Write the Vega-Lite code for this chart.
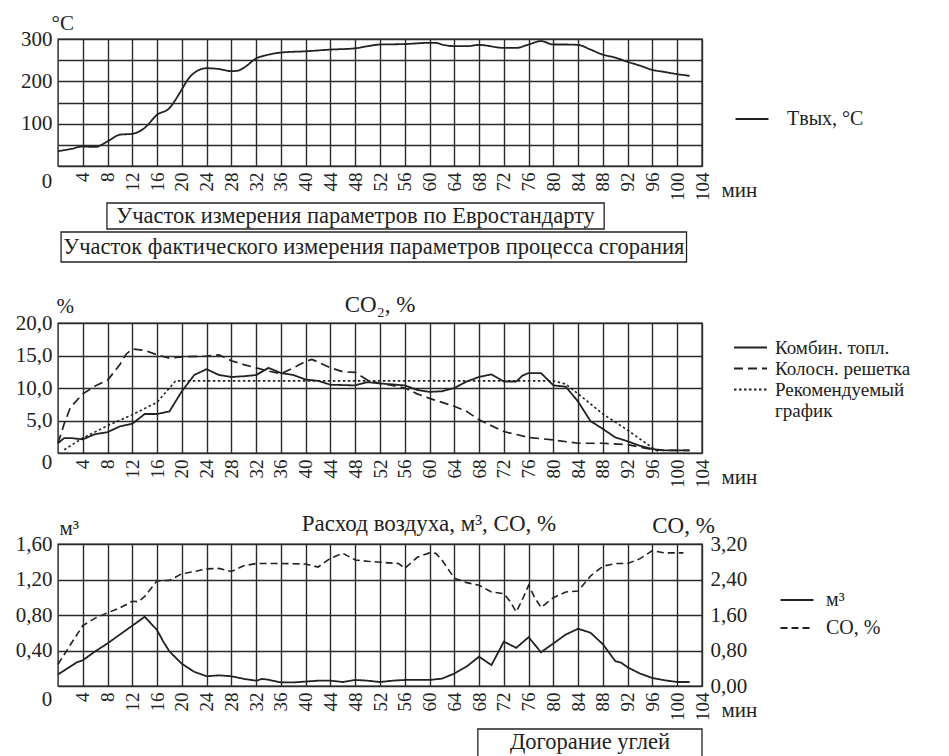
{
  "$schema": "https://vega.github.io/schema/vega-lite/v6.json",
  "padding": {"left": 14, "top": 11, "right": 0, "bottom": 0},
  "bounds": "flush",
  "spacing": 0,
  "resolve": {"scale": {"strokeDash": "independent", "strokeWidth": "independent"}, "legend": {"strokeDash": "independent", "strokeWidth": "independent"}},
  "config": {
    "font": "Liberation Serif",
    "view": {"stroke": null},
    "locale": {"number": {"decimal": ",", "thousands": " ", "grouping": [3], "currency": ["", ""]}},
    "axis": {"grid": true, "gridColor": "#2a2a2a", "gridWidth": 1.4, "gridOpacity": 1, "domain": false, "ticks": false, "labelOverlap": false, "labelBound": false,
      "tickCount": 40,
      "labelFont": "Liberation Serif", "labelFontSize": 21, "labelColor": "#222", "labelPadding": 6,
      "titleFont": "Liberation Serif", "titleFontWeight": "normal", "titleFontSize": 21, "titleColor": "#222"},
    "legend": {"labelFont": "Liberation Serif", "labelFontSize": 19, "labelColor": "#222", "symbolType": "M-3.3,0H3.3", "symbolSize": 100,
      "symbolStrokeWidth": 2, "symbolStrokeColor": "#222", "padding": 0, "orient": "none", "title": null, "labelLimit": 300},
    "title": {"font": "Liberation Serif", "fontSize": 23, "fontWeight": "normal", "color": "#222", "anchor": "middle", "frame": "group"}
  },
  "datasets": {
    "temp": [
      {"t": 0, "v": 35}, {"t": 2, "v": 40}, {"t": 4, "v": 46}, {"t": 6, "v": 45}, {"t": 8, "v": 58}, {"t": 10, "v": 74},
      {"t": 12, "v": 76}, {"t": 14, "v": 90}, {"t": 16, "v": 121}, {"t": 18, "v": 137}, {"t": 19, "v": 157}, {"t": 20, "v": 181},
      {"t": 21, "v": 205}, {"t": 22, "v": 220}, {"t": 24, "v": 231}, {"t": 26, "v": 229}, {"t": 28, "v": 224}, {"t": 29, "v": 225},
      {"t": 30, "v": 232}, {"t": 32, "v": 254}, {"t": 34, "v": 263}, {"t": 36, "v": 268}, {"t": 40, "v": 271}, {"t": 44, "v": 275},
      {"t": 48, "v": 278}, {"t": 50, "v": 283}, {"t": 52, "v": 287}, {"t": 56, "v": 288}, {"t": 60, "v": 291}, {"t": 61, "v": 291},
      {"t": 62, "v": 287}, {"t": 64, "v": 283}, {"t": 66, "v": 283}, {"t": 68, "v": 286}, {"t": 72, "v": 279}, {"t": 74, "v": 279},
      {"t": 76, "v": 287}, {"t": 78, "v": 295}, {"t": 80, "v": 287}, {"t": 82, "v": 287}, {"t": 84, "v": 286}, {"t": 86, "v": 275},
      {"t": 88, "v": 263}, {"t": 90, "v": 256}, {"t": 92, "v": 246}, {"t": 94, "v": 237}, {"t": 96, "v": 227}, {"t": 98, "v": 222},
      {"t": 100, "v": 217}, {"t": 102, "v": 213}
    ],
    "co2": [
      {"s": "Комбин. топл.", "t": 0, "v": 1.5}, {"s": "Комбин. топл.", "t": 1, "v": 2.3}, {"s": "Комбин. топл.", "t": 2, "v": 2.3},
      {"s": "Комбин. топл.", "t": 4, "v": 2.1}, {"s": "Комбин. топл.", "t": 6, "v": 2.9}, {"s": "Комбин. топл.", "t": 8, "v": 3.2},
      {"s": "Комбин. топл.", "t": 10, "v": 4.1}, {"s": "Комбин. топл.", "t": 12, "v": 4.5}, {"s": "Комбин. топл.", "t": 14, "v": 6.0},
      {"s": "Комбин. топл.", "t": 16, "v": 6.0}, {"s": "Комбин. топл.", "t": 18, "v": 6.4}, {"s": "Комбин. топл.", "t": 20, "v": 9.5},
      {"s": "Комбин. топл.", "t": 22, "v": 12.0}, {"s": "Комбин. топл.", "t": 24, "v": 12.9}, {"s": "Комбин. топл.", "t": 26, "v": 12.0},
      {"s": "Комбин. топл.", "t": 28, "v": 11.7}, {"s": "Комбин. топл.", "t": 30, "v": 11.8}, {"s": "Комбин. топл.", "t": 32, "v": 12.0},
      {"s": "Комбин. топл.", "t": 34, "v": 13.1}, {"s": "Комбин. топл.", "t": 36, "v": 12.3}, {"s": "Комбин. топл.", "t": 38, "v": 12.0},
      {"s": "Комбин. топл.", "t": 40, "v": 11.3}, {"s": "Комбин. топл.", "t": 42, "v": 11.1}, {"s": "Комбин. топл.", "t": 44, "v": 10.5},
      {"s": "Комбин. топл.", "t": 48, "v": 10.4}, {"s": "Комбин. топл.", "t": 50, "v": 10.9}, {"s": "Комбин. топл.", "t": 52, "v": 10.7},
      {"s": "Комбин. топл.", "t": 56, "v": 10.4}, {"s": "Комбин. топл.", "t": 58, "v": 9.7}, {"s": "Комбин. топл.", "t": 60, "v": 9.4},
      {"s": "Комбин. топл.", "t": 62, "v": 9.5}, {"s": "Комбин. топл.", "t": 64, "v": 10.0}, {"s": "Комбин. топл.", "t": 66, "v": 11.0},
      {"s": "Комбин. топл.", "t": 68, "v": 11.7}, {"s": "Комбин. топл.", "t": 70, "v": 12.1}, {"s": "Комбин. топл.", "t": 72, "v": 11.0},
      {"s": "Комбин. топл.", "t": 74, "v": 11.0}, {"s": "Комбин. топл.", "t": 75, "v": 11.9}, {"s": "Комбин. топл.", "t": 76, "v": 12.3},
      {"s": "Комбин. топл.", "t": 78, "v": 12.3}, {"s": "Комбин. топл.", "t": 80, "v": 10.4}, {"s": "Комбин. топл.", "t": 82, "v": 10.2},
      {"s": "Комбин. топл.", "t": 84, "v": 7.9}, {"s": "Комбин. топл.", "t": 86, "v": 4.9}, {"s": "Комбин. топл.", "t": 88, "v": 3.7},
      {"s": "Комбин. топл.", "t": 90, "v": 2.4}, {"s": "Комбин. топл.", "t": 92, "v": 1.8}, {"s": "Комбин. топл.", "t": 94, "v": 1.1},
      {"s": "Комбин. топл.", "t": 96, "v": 0.6}, {"s": "Комбин. топл.", "t": 98, "v": 0.4}, {"s": "Комбин. топл.", "t": 100, "v": 0.4},
      {"s": "Комбин. топл.", "t": 102, "v": 0.4},
      {"s": "Колосн. решетка", "t": 0, "v": 1.5}, {"s": "Колосн. решетка", "t": 1, "v": 4.5}, {"s": "Колосн. решетка", "t": 2, "v": 7.0},
      {"s": "Колосн. решетка", "t": 4, "v": 9.1}, {"s": "Колосн. решетка", "t": 6, "v": 10.3}, {"s": "Колосн. решетка", "t": 8, "v": 11.2},
      {"s": "Колосн. решетка", "t": 10, "v": 13.6}, {"s": "Колосн. решетка", "t": 11, "v": 15.2}, {"s": "Колосн. решетка", "t": 12, "v": 16.0},
      {"s": "Колосн. решетка", "t": 14, "v": 15.8}, {"s": "Колосн. решетка", "t": 16, "v": 15.1}, {"s": "Колосн. решетка", "t": 18, "v": 14.6},
      {"s": "Колосн. решетка", "t": 20, "v": 14.8}, {"s": "Колосн. решетка", "t": 24, "v": 14.9}, {"s": "Колосн. решетка", "t": 26, "v": 15.1},
      {"s": "Колосн. решетка", "t": 28, "v": 14.2}, {"s": "Колосн. решетка", "t": 30, "v": 13.6}, {"s": "Колосн. решетка", "t": 32, "v": 13.1},
      {"s": "Колосн. решетка", "t": 34, "v": 12.6}, {"s": "Колосн. решетка", "t": 36, "v": 12.2}, {"s": "Колосн. решетка", "t": 38, "v": 13.1},
      {"s": "Колосн. решетка", "t": 40, "v": 14.1}, {"s": "Колосн. решетка", "t": 41, "v": 14.4}, {"s": "Колосн. решетка", "t": 42, "v": 14.0},
      {"s": "Колосн. решетка", "t": 44, "v": 13.1}, {"s": "Колосн. решетка", "t": 46, "v": 12.5}, {"s": "Колосн. решетка", "t": 48, "v": 12.4},
      {"s": "Колосн. решетка", "t": 50, "v": 11.2}, {"s": "Колосн. решетка", "t": 52, "v": 10.7}, {"s": "Колосн. решетка", "t": 54, "v": 10.4},
      {"s": "Колосн. решетка", "t": 56, "v": 10.0}, {"s": "Колосн. решетка", "t": 58, "v": 9.1}, {"s": "Колосн. решетка", "t": 60, "v": 8.4},
      {"s": "Колосн. решетка", "t": 64, "v": 7.2}, {"s": "Колосн. решетка", "t": 66, "v": 6.4}, {"s": "Колосн. решетка", "t": 68, "v": 5.1},
      {"s": "Колосн. решетка", "t": 72, "v": 3.3}, {"s": "Колосн. решетка", "t": 76, "v": 2.4}, {"s": "Колосн. решетка", "t": 80, "v": 2.0},
      {"s": "Колосн. решетка", "t": 84, "v": 1.5}, {"s": "Колосн. решетка", "t": 88, "v": 1.5}, {"s": "Колосн. решетка", "t": 92, "v": 1.3},
      {"s": "Колосн. решетка", "t": 96, "v": 0.5}, {"s": "Колосн. решетка", "t": 98, "v": 0.4}, {"s": "Колосн. решетка", "t": 102, "v": 0.4},
      {"s": "Рекомендуемый график", "t": 1, "v": 0.5}, {"s": "Рекомендуемый график", "t": 4, "v": 2.3}, {"s": "Рекомендуемый график", "t": 8, "v": 4.2},
      {"s": "Рекомендуемый график", "t": 12, "v": 5.9}, {"s": "Рекомендуемый график", "t": 16, "v": 7.8}, {"s": "Рекомендуемый график", "t": 19, "v": 11.1},
      {"s": "Рекомендуемый график", "t": 40, "v": 11.1}, {"s": "Рекомендуемый график", "t": 60, "v": 11.1}, {"s": "Рекомендуемый график", "t": 80, "v": 11.1},
      {"s": "Рекомендуемый график", "t": 82, "v": 10.6}, {"s": "Рекомендуемый график", "t": 84, "v": 9.1}, {"s": "Рекомендуемый график", "t": 88, "v": 6.0},
      {"s": "Рекомендуемый график", "t": 92, "v": 3.5}, {"s": "Рекомендуемый график", "t": 96, "v": 0.8}, {"s": "Рекомендуемый график", "t": 97, "v": 0.2}
    ],
    "air": [
      {"t": 0, "v": 0.13}, {"t": 2, "v": 0.22}, {"t": 3, "v": 0.265}, {"t": 4, "v": 0.29}, {"t": 6, "v": 0.39}, {"t": 8, "v": 0.48},
      {"t": 10, "v": 0.58}, {"t": 12, "v": 0.68}, {"t": 14, "v": 0.78}, {"t": 16, "v": 0.63}, {"t": 17, "v": 0.5}, {"t": 18, "v": 0.39},
      {"t": 20, "v": 0.25}, {"t": 22, "v": 0.16}, {"t": 24, "v": 0.11}, {"t": 26, "v": 0.12}, {"t": 28, "v": 0.11}, {"t": 30, "v": 0.08},
      {"t": 32, "v": 0.06}, {"t": 33, "v": 0.08}, {"t": 34, "v": 0.07}, {"t": 36, "v": 0.04}, {"t": 38, "v": 0.04}, {"t": 40, "v": 0.05},
      {"t": 42, "v": 0.06}, {"t": 44, "v": 0.06}, {"t": 46, "v": 0.045}, {"t": 48, "v": 0.068}, {"t": 50, "v": 0.06}, {"t": 52, "v": 0.045},
      {"t": 54, "v": 0.06}, {"t": 56, "v": 0.068}, {"t": 60, "v": 0.068}, {"t": 62, "v": 0.083}, {"t": 64, "v": 0.14}, {"t": 66, "v": 0.22},
      {"t": 68, "v": 0.33}, {"t": 70, "v": 0.235}, {"t": 72, "v": 0.5}, {"t": 74, "v": 0.43}, {"t": 76, "v": 0.55}, {"t": 78, "v": 0.38},
      {"t": 80, "v": 0.48}, {"t": 82, "v": 0.58}, {"t": 84, "v": 0.645}, {"t": 86, "v": 0.6}, {"t": 88, "v": 0.47}, {"t": 90, "v": 0.28},
      {"t": 91, "v": 0.26}, {"t": 92, "v": 0.21}, {"t": 94, "v": 0.14}, {"t": 96, "v": 0.09}, {"t": 98, "v": 0.064}, {"t": 100, "v": 0.045},
      {"t": 102, "v": 0.045}
    ],
    "co": [
      {"t": 0, "v": 0.49}, {"t": 2, "v": 0.93}, {"t": 4, "v": 1.36}, {"t": 6, "v": 1.53}, {"t": 8, "v": 1.65}, {"t": 10, "v": 1.76},
      {"t": 12, "v": 1.91}, {"t": 13, "v": 1.9}, {"t": 14, "v": 2.02}, {"t": 16, "v": 2.37}, {"t": 18, "v": 2.38}, {"t": 20, "v": 2.53},
      {"t": 22, "v": 2.58}, {"t": 24, "v": 2.64}, {"t": 26, "v": 2.65}, {"t": 28, "v": 2.58}, {"t": 30, "v": 2.71}, {"t": 32, "v": 2.76},
      {"t": 36, "v": 2.76}, {"t": 40, "v": 2.75}, {"t": 42, "v": 2.68}, {"t": 44, "v": 2.88}, {"t": 46, "v": 2.99}, {"t": 48, "v": 2.84},
      {"t": 50, "v": 2.81}, {"t": 52, "v": 2.79}, {"t": 55, "v": 2.76}, {"t": 56, "v": 2.65}, {"t": 58, "v": 2.9}, {"t": 60, "v": 3.0},
      {"t": 61, "v": 2.99}, {"t": 62, "v": 2.84}, {"t": 64, "v": 2.43}, {"t": 66, "v": 2.33}, {"t": 68, "v": 2.27}, {"t": 70, "v": 2.12},
      {"t": 72, "v": 2.08}, {"t": 73, "v": 1.91}, {"t": 74, "v": 1.67}, {"t": 75, "v": 1.95}, {"t": 76, "v": 2.27}, {"t": 77, "v": 1.99},
      {"t": 78, "v": 1.77}, {"t": 80, "v": 1.99}, {"t": 82, "v": 2.12}, {"t": 84, "v": 2.14}, {"t": 86, "v": 2.48}, {"t": 88, "v": 2.7},
      {"t": 90, "v": 2.76}, {"t": 92, "v": 2.76}, {"t": 94, "v": 2.87}, {"t": 96, "v": 3.05}, {"t": 98, "v": 3.0}, {"t": 100, "v": 3.0},
      {"t": 101, "v": 3.0}
    ],
    "origin": [{"t": 0, "v": 0, "lab": "0"}]
  },
  "vconcat": [
    {
      "width": 644, "height": 127,
      "view": {"stroke": "#222", "strokeWidth": 1.4},
      "layer": [
        {
          "data": {"name": "temp"},
          "mark": {"type": "line", "interpolate": "monotone", "color": "#222", "strokeWidth": 1.8},
          "encoding": {
            "x": {"field": "t", "type": "quantitative", "scale": {"domain": [0, 104], "nice": false},
              "axis": {"values": [4, 8, 12, 16, 20, 24, 28, 32, 36, 40, 44, 48, 52, 56, 60, 64, 68, 72, 76, 80, 84, 88, 92, 96, 100, 104],
                "labelAngle": 270, "labelFontSize": 19, "title": "мин", "titleAlign": "left", "titleX": 663, "titleY": 30, "titleBaseline": "alphabetic"}},
            "y": {"field": "v", "type": "quantitative", "scale": {"domain": [0, 300], "nice": false},
              "axis": {"values": [0, 50, 100, 150, 200, 250, 300], "labelExpr": "datum.value % 100 == 0 && datum.value > 0 ? datum.label : ''",
                "title": "°C", "titleAngle": 0, "titleAlign": "left", "titleBaseline": "alphabetic", "titleX": -7, "titleY": -10}},
            "strokeDash": {"datum": "Tвых, °C", "type": "nominal", "scale": {"domain": ["Tвых, °C"], "range": [[1, 0]]},
              "legend": {"legendX": 684, "legendY": 70, "labelOffset": 25, "labelFontSize": 20}}
          }
        },
        {
          "data": {"name": "origin"},
          "mark": {"type": "text", "fontSize": 21, "dx": -11, "dy": 16, "color": "#222"},
          "encoding": {"x": {"field": "t", "type": "quantitative"}, "y": {"field": "v", "type": "quantitative"}, "text": {"field": "lab"}}
        }
      ]
    },
    {"width": 644, "height": 37, "data": {"values": [{}]}, "mark": {"type": "rect", "opacity": 0}, "encoding": {}},
    {
      "width": 644, "height": 26,
      "data": {"values": [{"label": "Участок измерения параметров по Евростандарту", "start": 7.9, "end": 88.2}]},
      "transform": [{"calculate": "(datum.start + datum.end) / 2", "as": "mid"}],
      "layer": [
        {"mark": {"type": "rect", "fill": "white", "stroke": "#222", "strokeWidth": 1.3},
          "encoding": {"x": {"field": "start", "type": "quantitative", "scale": {"domain": [0, 104], "nice": false}, "axis": null}, "x2": {"field": "end"}}},
        {"mark": {"type": "text", "fontSize": 22.5, "color": "#222", "baseline": "middle"},
          "encoding": {"x": {"field": "mid", "type": "quantitative"}, "text": {"field": "label"}}}
      ]
    },
    {"width": 644, "height": 3, "data": {"values": [{}]}, "mark": {"type": "rect", "opacity": 0}, "encoding": {}},
    {
      "width": 644, "height": 30,
      "data": {"values": [{"label": "Участок фактического измерения параметров процесса сгорания", "start": 0.5, "end": 101.5}]},
      "transform": [{"calculate": "(datum.start + datum.end) / 2", "as": "mid"}],
      "layer": [
        {"mark": {"type": "rect", "fill": "white", "stroke": "#222", "strokeWidth": 1.3},
          "encoding": {"x": {"field": "start", "type": "quantitative", "scale": {"domain": [0, 104], "nice": false}, "axis": null}, "x2": {"field": "end"}}},
        {"mark": {"type": "text", "fontSize": 22.5, "color": "#222", "baseline": "middle"},
          "encoding": {"x": {"field": "mid", "type": "quantitative"}, "text": {"field": "label"}}}
      ]
    },
    {"width": 644, "height": 61, "data": {"values": [{}]}, "mark": {"type": "rect", "opacity": 0}, "encoding": {}},
    {
      "width": 644, "height": 130,
      "view": {"stroke": "#222", "strokeWidth": 1.4},
      "title": {"text": "CO₂, %", "offset": -22},
      "layer": [
        {
          "data": {"name": "co2"},
          "mark": {"type": "line", "color": "#222"},
          "encoding": {
            "x": {"field": "t", "type": "quantitative", "scale": {"domain": [0, 104], "nice": false},
              "axis": {"values": [4, 8, 12, 16, 20, 24, 28, 32, 36, 40, 44, 48, 52, 56, 60, 64, 68, 72, 76, 80, 84, 88, 92, 96, 100, 104],
                "labelAngle": 270, "labelFontSize": 19, "title": "мин", "titleAlign": "left", "titleX": 663, "titleY": 30, "titleBaseline": "alphabetic"}},
            "y": {"field": "v", "type": "quantitative", "scale": {"domain": [0, 20], "nice": false},
              "axis": {"values": [0, 5, 10, 15, 20], "format": ".1f", "labelExpr": "datum.value > 0 ? datum.label : ''",
                "title": "%", "titleAngle": 0, "titleAlign": "left", "titleBaseline": "alphabetic", "titleX": -2, "titleY": -11}},
            "strokeDash": {"field": "s", "type": "nominal",
              "scale": {"domain": ["Комбин. топл.", "Колосн. решетка", "Рекомендуемый график", "график"], "range": [[1, 0], [9, 5], [2.5, 2.5], [0, 60]]},
              "legend": {"legendX": 683, "legendY": 15, "labelOffset": 15, "rowPadding": 1,
                "labelExpr": "datum.label == 'Рекомендуемый график' ? 'Рекомендуемый' : datum.label"}},
            "strokeWidth": {"field": "s", "type": "nominal",
              "scale": {"domain": ["Комбин. топл.", "Колосн. решетка", "Рекомендуемый график"], "range": [1.8, 1.6, 2.8]}, "legend": null}
          }
        },
        {
          "data": {"name": "origin"},
          "mark": {"type": "text", "fontSize": 21, "dx": -11, "dy": 10, "color": "#222"},
          "encoding": {"x": {"field": "t", "type": "quantitative"}, "y": {"field": "v", "type": "quantitative"}, "text": {"field": "lab"}}
        }
      ]
    },
    {"width": 644, "height": 91, "data": {"values": [{}]}, "mark": {"type": "rect", "opacity": 0}, "encoding": {}},
    {
      "width": 644, "height": 142,
      "view": {"stroke": "#222", "strokeWidth": 1.4},
      "title": {"text": "Расход воздуха, м³, СО, %", "offset": -22, "dx": 49},
      "layer": [
        {
          "layer": [
            {
              "data": {"name": "air"},
              "mark": {"type": "line", "color": "#222", "strokeWidth": 1.8},
              "encoding": {
                "x": {"field": "t", "type": "quantitative", "scale": {"domain": [0, 104], "nice": false},
                  "axis": {"values": [4, 8, 12, 16, 20, 24, 28, 32, 36, 40, 44, 48, 52, 56, 60, 64, 68, 72, 76, 80, 84, 88, 92, 96, 100, 104],
                    "labelAngle": 270, "labelFontSize": 19, "title": "мин", "titleAlign": "left", "titleX": 663, "titleY": 30, "titleBaseline": "alphabetic"}},
                "y": {"field": "v", "type": "quantitative", "scale": {"domain": [0, 1.6], "nice": false},
                  "axis": {"values": [0, 0.4, 0.8, 1.2, 1.6], "format": ".2f", "labelExpr": "datum.value > 0 ? datum.label : ''",
                    "title": "м³", "titleAngle": 0, "titleAlign": "left", "titleBaseline": "alphabetic", "titleX": 1, "titleY": -10}},
                "strokeDash": {"datum": "м³", "type": "nominal", "scale": {"domain": ["м³", "CO, %"], "range": [[1, 0], [7, 4]]},
                  "legend": {"legendX": 729, "legendY": 46, "labelOffset": 19, "rowPadding": 8, "labelFontSize": 20}}
              }
            },
            {
              "data": {"name": "origin"},
              "mark": {"type": "text", "fontSize": 21, "dx": -11, "dy": 14, "color": "#222"},
              "encoding": {"x": {"field": "t", "type": "quantitative"}, "y": {"field": "v", "type": "quantitative"}, "text": {"field": "lab"}}
            }
          ]
        },
        {
          "data": {"name": "co"},
          "mark": {"type": "line", "color": "#222", "strokeWidth": 1.6},
          "encoding": {
            "x": {"field": "t", "type": "quantitative"},
            "y": {"field": "v", "type": "quantitative", "scale": {"domain": [0, 3.2], "nice": false},
              "axis": {"orient": "right", "grid": false, "values": [0, 0.8, 1.6, 2.4, 3.2], "format": ".2f", "labelPadding": 8,
                "title": "CO, %", "titleAngle": 0, "titleAlign": "center", "titleBaseline": "alphabetic", "titleX": -19, "titleY": -12, "titleFontSize": 23}},
            "strokeDash": {"datum": "CO, %", "type": "nominal"}
          }
        }
      ],
      "resolve": {"scale": {"y": "independent"}}
    },
    {"width": 644, "height": 43, "data": {"values": [{}]}, "mark": {"type": "rect", "opacity": 0}, "encoding": {}},
    {
      "width": 644, "height": 30,
      "data": {"values": [{"label": "Догорание углей", "start": 67.8, "end": 104}]},
      "transform": [{"calculate": "(datum.start + datum.end) / 2", "as": "mid"}],
      "layer": [
        {"mark": {"type": "rect", "fill": "white", "stroke": "#222", "strokeWidth": 1.3},
          "encoding": {"x": {"field": "start", "type": "quantitative", "scale": {"domain": [0, 104], "nice": false}, "axis": null}, "x2": {"field": "end"}}},
        {"mark": {"type": "text", "fontSize": 22.5, "color": "#222", "baseline": "middle", "dy": -2},
          "encoding": {"x": {"field": "mid", "type": "quantitative"}, "text": {"field": "label"}}}
      ]
    }
  ]
}
